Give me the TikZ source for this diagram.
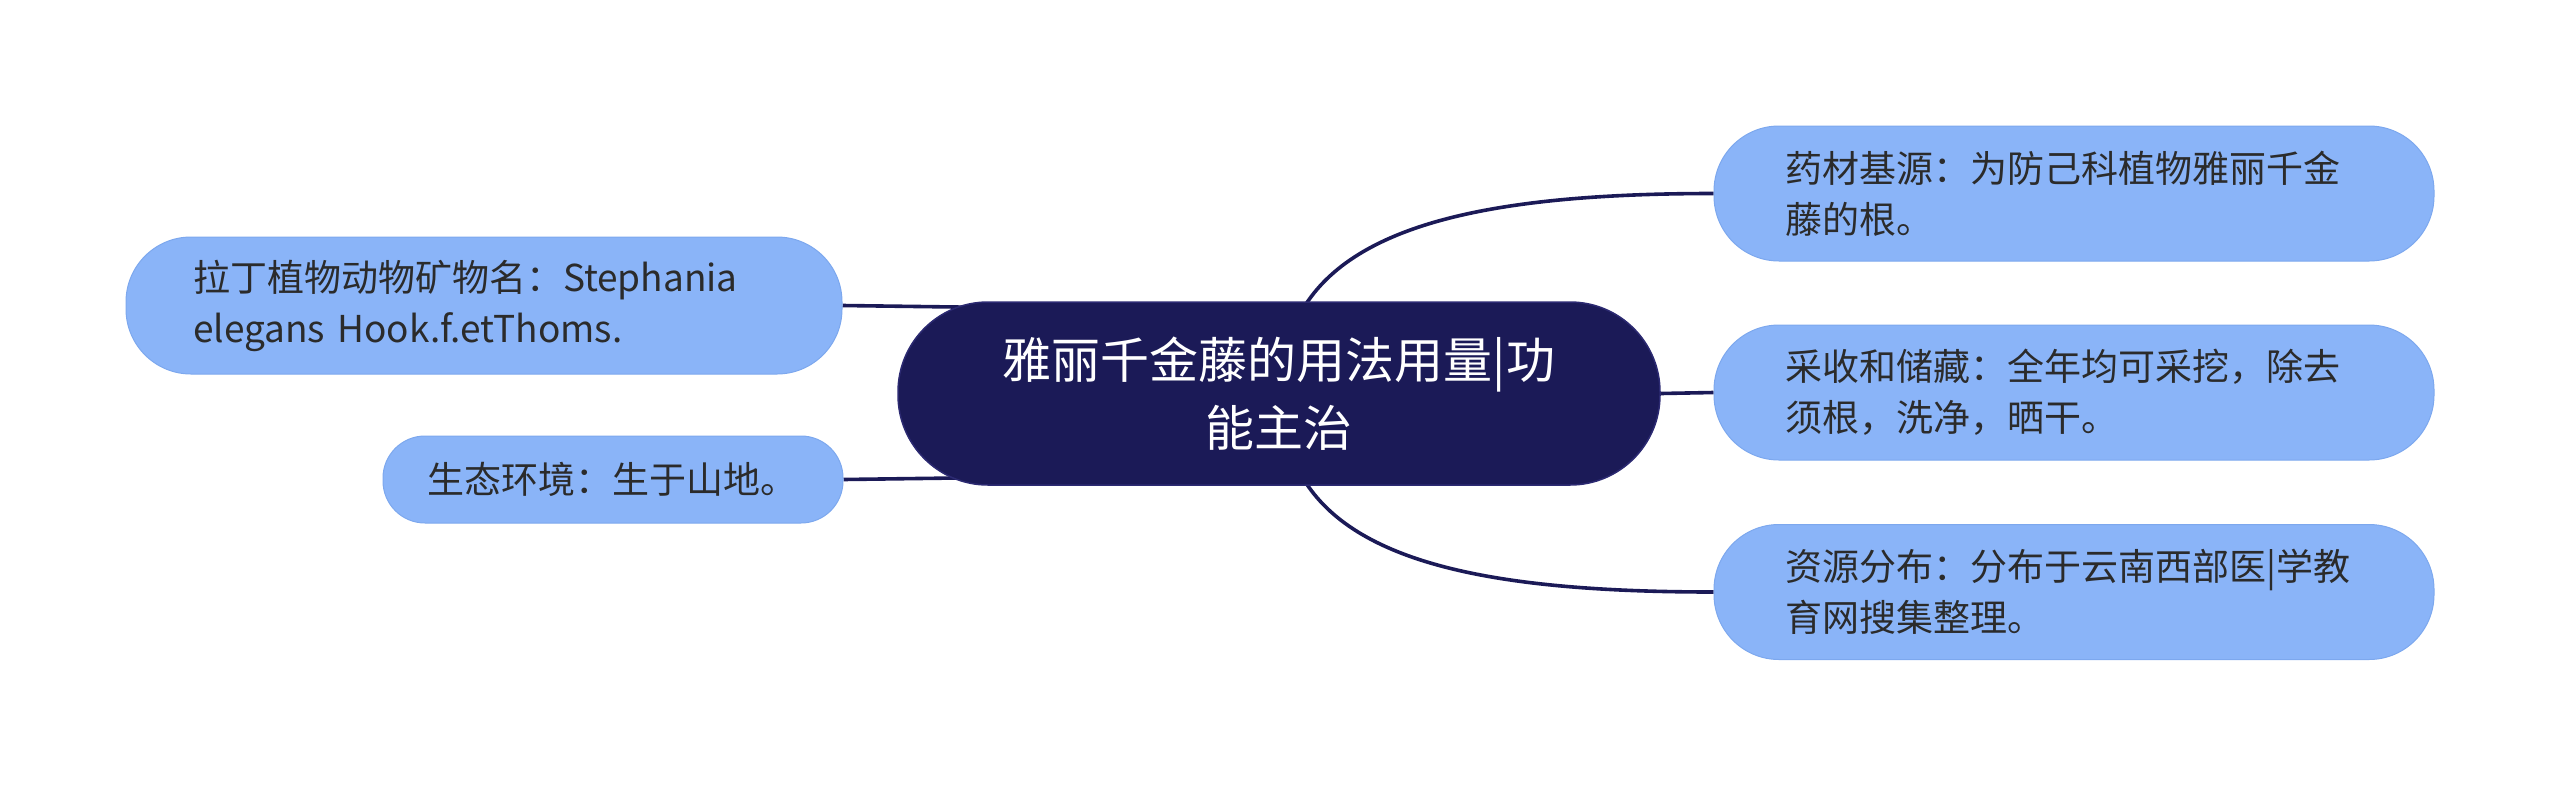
\documentclass[tikz,border=0pt]{standalone}
\usepackage{fontspec}
\setmainfont{Noto Sans CJK SC}
\usetikzlibrary{backgrounds,calc}
\definecolor{navy}{HTML}{1B1A57}
\definecolor{navyedge}{HTML}{2C2A72}
\definecolor{leafblue}{HTML}{8AB4F8}
\definecolor{leafedge}{HTML}{7DA8EE}
\definecolor{leaftext}{HTML}{2B2B2B}
\tikzset{
  leaf/.style={fill=leafblue, draw=leafedge, line width=1pt, text=leaftext,
    font=\fontsize{37}{51}\selectfont, align=left, inner ysep=0pt},
  rootnode/.style={fill=navy, draw=navyedge, line width=1.5pt, text=white,
    font=\fontsize{49}{68}\selectfont, align=center, inner ysep=0pt,
    minimum width=762pt, minimum height=183pt, rounded corners=90pt},
  link/.style={draw=navy, line width=3.6pt},
}
\begin{document}
\begin{tikzpicture}[x=1pt,y=-1pt]
\useasboundingbox (0,0) rectangle (2560,785);
\node[rootnode] (root) at (1279,393.5) {雅丽千金藤的用法用量|功\\能主治};
\node[leaf, text width=578pt, inner xsep=71pt, minimum height=135pt, rounded corners=65pt] (r1) at (2074,193.5) {药材基源：为防己科植物雅丽千金\\藤的根。};
\node[leaf, text width=578pt, inner xsep=71pt, minimum height=135pt, rounded corners=65pt] (r2) at (2074,392.5) {采收和储藏：全年均可采挖，除去\\须根，洗净，晒干。};
\node[leaf, text width=578pt, inner xsep=71pt, minimum height=135pt, rounded corners=65pt] (r3) at (2074,592) {资源分布：分布于云南西部医|学教\\育网搜集整理。};
\node[leaf, text width=582pt, inner xsep=67pt, minimum height=137pt, rounded corners=65pt] (l1) at (484,305.5) {拉丁植物动物矿物名：Stephania\\elegans Hook.f.etThoms.};
\node[leaf, text width=372pt, inner xsep=44pt, minimum height=87pt, rounded corners=42pt] (l2) at (613,479.5) {生态环境：生于山地。};
\coordinate (rt) at (1306,304);
\coordinate (rb) at (1306,483);
\begin{scope}[on background layer]
\draw[link] (rt) .. controls ($(rt)+(54,-82)$) and ($(r1.west)+(-214,0)$) .. (r1.west);
\draw[link] (rb) .. controls ($(rb)+(54,82)$) and ($(r3.west)+(-214,0)$) .. (r3.west);
\draw[link] (root.east) -- (r2.west);
\draw[link] (l1.east) -- ($(l1.east)+(150,2)$);
\draw[link] (l2.east) -- ($(l2.east)+(150,-2)$);
\end{scope}
\end{tikzpicture}
\end{document}
